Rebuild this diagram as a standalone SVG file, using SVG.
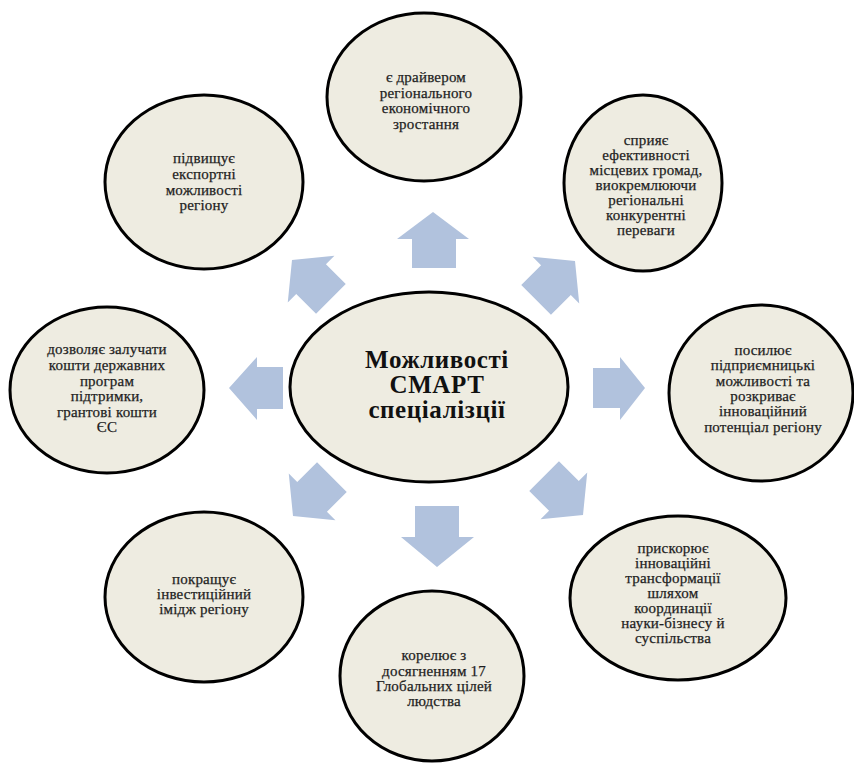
<svg xmlns="http://www.w3.org/2000/svg" xmlns:xlink="http://www.w3.org/1999/xlink" width="854" height="763" viewBox="0 0 854 763">
<defs>
<style>
.bub{fill:#EEECE1;stroke:#000;stroke-width:3}
.arrow{fill:#B1C2DD}
.t{font-family:"Liberation Serif","Times New Roman",serif;font-size:15px;letter-spacing:0.2px;fill:#1e1e1e;stroke:#1e1e1e;stroke-width:0.25;text-anchor:middle}
.title{font-family:"Liberation Serif","Times New Roman",serif;font-size:25px;letter-spacing:0.6px;font-weight:bold;fill:#111;text-anchor:middle}
</style>
<polygon id="arr" points="0,0 -27,-33 -27,-21 -55,-21 -55,21 -27,21 -27,33"/>
</defs>
<rect width="854" height="763" fill="#fff"/>
<g id="connectors" class="arrow">
<polygon points="433,212 469,239 456,239 456,268 412,268 412,239 397,239"/>
<polygon points="437,567 474,537 459,537 459,506 415,506 415,537 401,537"/>
<polygon points="229,388 257,357 257,367 283,367 283,409 257,409 257,420"/>
<polygon points="645,388 620,357 620,368 593,368 593,408 620,408 620,420"/>
<use xlink:href="#arr" transform="translate(292,260) rotate(-135)"/>
<use xlink:href="#arr" transform="translate(575,261) rotate(-45)"/>
<use xlink:href="#arr" transform="translate(293,516) rotate(135)"/>
<use xlink:href="#arr" transform="translate(583,515) rotate(45)"/>
</g>
<g id="center">
<ellipse class="bub" cx="429" cy="387" rx="139" ry="95"/>
<text class="title" x="437" y="368">Можливості</text>
<text class="title" x="437" y="393">СМАРТ</text>
<text class="title" x="437" y="418">спеціалізції</text>
</g>
<g id="n-top">
<ellipse class="bub" cx="424" cy="97" rx="97" ry="84"/>
<text class="t" x="426" y="82">є драйвером</text>
<text class="t" x="426" y="97.5">регіонального</text>
<text class="t" x="426" y="113">економічного</text>
<text class="t" x="426" y="128.5">зростання</text>
</g>
<g id="n-topleft">
<ellipse class="bub" cx="204" cy="182" rx="99" ry="87"/>
<text class="t" x="204" y="163">підвищує</text>
<text class="t" x="204" y="179">експортні</text>
<text class="t" x="204" y="195">можливості</text>
<text class="t" x="204" y="210">регіону</text>
</g>
<g id="n-topright">
<ellipse class="bub" cx="643" cy="183" rx="79" ry="88"/>
<text class="t" x="646" y="145">сприяє</text>
<text class="t" x="646" y="160">ефективності</text>
<text class="t" x="646" y="175">місцевих громад,</text>
<text class="t" x="646" y="190">виокремлюючи</text>
<text class="t" x="646" y="205">регіональні</text>
<text class="t" x="646" y="220">конкурентні</text>
<text class="t" x="646" y="235">переваги</text>
</g>
<g id="n-right">
<ellipse class="bub" cx="761" cy="393" rx="92" ry="88"/>
<text class="t" x="763" y="355">посилює</text>
<text class="t" x="763" y="370">підприємницькі</text>
<text class="t" x="763" y="386">можливості та</text>
<text class="t" x="763" y="401">розкриває</text>
<text class="t" x="763" y="416">інноваційний</text>
<text class="t" x="763" y="432">потенціал регіону</text>
</g>
<g id="n-left">
<ellipse class="bub" cx="107" cy="390" rx="97" ry="83"/>
<text class="t" x="107" y="354">дозволяє залучати</text>
<text class="t" x="107" y="370">кошти державних</text>
<text class="t" x="107" y="386">програм</text>
<text class="t" x="107" y="401">підтримки,</text>
<text class="t" x="107" y="417">грантові кошти</text>
<text class="t" x="107" y="432">ЄС</text>
</g>
<g id="n-bottomleft">
<ellipse class="bub" cx="204" cy="597" rx="99" ry="85"/>
<text class="t" x="204" y="584">покращує</text>
<text class="t" x="204" y="599">інвестиційний</text>
<text class="t" x="204" y="614">імідж регіону</text>
</g>
<g id="n-bottom">
<ellipse class="bub" cx="432" cy="676" rx="92" ry="85"/>
<text class="t" x="434" y="660">корелює з</text>
<text class="t" x="434" y="676">досягненням 17</text>
<text class="t" x="434" y="691">Глобальних цілей</text>
<text class="t" x="434" y="706">людства</text>
</g>
<g id="n-bottomright">
<ellipse class="bub" cx="678" cy="598" rx="108" ry="82"/>
<text class="t" x="673" y="553">прискорює</text>
<text class="t" x="673" y="568">інноваційні</text>
<text class="t" x="673" y="583">трансформації</text>
<text class="t" x="673" y="598">шляхом</text>
<text class="t" x="673" y="613">координації</text>
<text class="t" x="673" y="628">науки-бізнесу й</text>
<text class="t" x="673" y="643">суспільства</text>
</g>
</svg>
